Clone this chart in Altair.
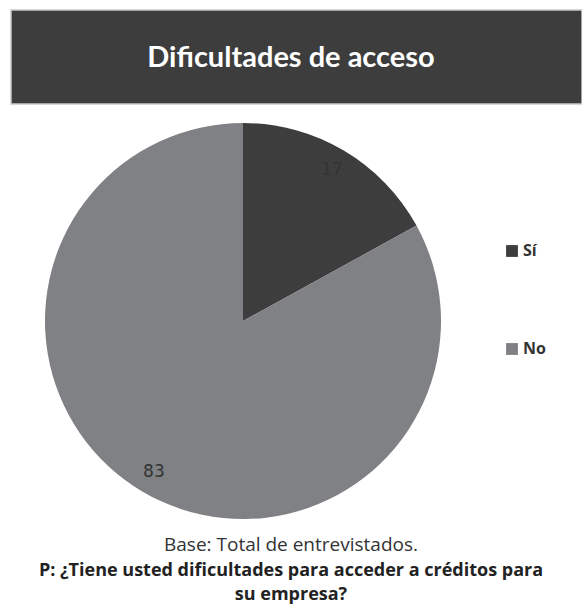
import altair as alt
import pandas as pd

# Survey answers and their shares (percent)
answers = ["Sí", "No"]
shares = [17, 83]
order = [0, 1]
colors = ["#3d3d3d", "#808184"]

title_text = ["Dificultades de acceso"]
base_text = ["Base: Total de entrevistados."]
question_lines = ["P: ¿Tiene usted dificultades para acceder a créditos para", "su empresa?"]

df = pd.DataFrame({"respuesta": answers, "valor": shares, "orden": order})

CX, CY, R = 243, 321, 198

base = alt.Chart(df).encode(
    theta=alt.Theta("valor:Q", stack=True),
    order=alt.Order("orden:Q"),
)

pie = base.mark_arc(radius=R, stroke=None).encode(
    x=alt.value(CX),
    y=alt.value(CY),
    color=alt.Color(
        "respuesta:N",
        sort=answers,
        scale=alt.Scale(domain=answers, range=colors),
        legend=alt.Legend(
            title=None,
            orient="none",
            legendX=504,
            legendY=243,
            symbolType="square",
            symbolSize=140,
            symbolStrokeWidth=0,
            labelFont="Open Sans",
            labelFontWeight="bold",
            labelFontSize=16,
            labelColor="#333333",
            labelOffset=3,
            rowPadding=82,
        ),
    ),
)

labels = base.mark_text(
    radius=175, font="DejaVu Sans", fontSize=17, color="#333333"
).encode(
    x=alt.value(CX),
    y=alt.value(CY),
    text=alt.Text("valor:Q"),
)

# Dark header band with the title
header_df = pd.DataFrame({"t": title_text})
header = alt.Chart(header_df).mark_rect(
    color="#3d3d3d", stroke="#c8c8c8", strokeWidth=1.5
).encode(
    x=alt.value(11), x2=alt.value(582), y=alt.value(10), y2=alt.value(104)
)
title = alt.Chart(header_df).mark_text(
    font="Lato", fontWeight="bold", fontSize=29, color="#ffffff", align="center", baseline="middle"
).encode(x=alt.value(291), y=alt.value(58), text="t:N")

# Footnotes
base_note = alt.Chart(pd.DataFrame({"t": base_text})).mark_text(
    font="Open Sans", fontWeight=500, fontSize=19, color="#333333", align="center", baseline="middle"
).encode(x=alt.value(291), y=alt.value(545), text="t:N")

q_df = pd.DataFrame({"t": question_lines, "line": [0, 1]})
question = alt.Chart(q_df).mark_text(
    font="Open Sans", fontWeight="bold", fontSize=18, color="#222222", align="center", baseline="middle"
).encode(
    x=alt.value(291),
    y=alt.Y("line:Q", scale=alt.Scale(domain=[0, 1], range=[571, 595]), axis=None),
    text="t:N",
)

chart = alt.layer(header, title, pie, labels, base_note, question).properties(
    width=582,
    height=606,
    padding=0,
    autosize=alt.AutoSizeParams(type="none"),
    background="#ffffff",
).configure_view(stroke=None)

chart.save("out.html", embed_options={"renderer": "svg", "actions": False})
